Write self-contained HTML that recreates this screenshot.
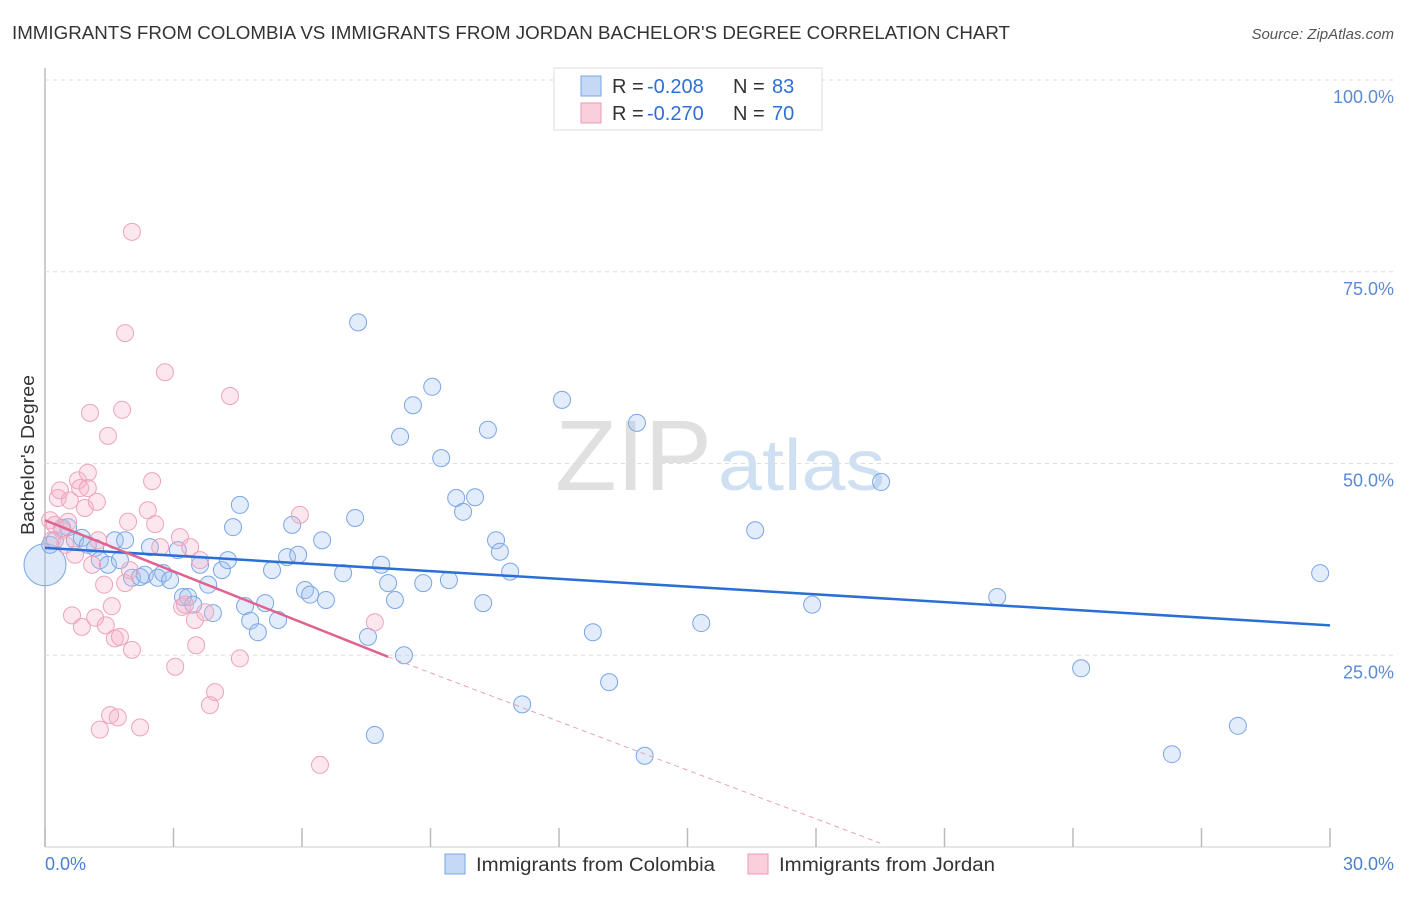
<!DOCTYPE html>
<html><head><meta charset="utf-8"><style>
body{margin:0;background:#fff;font-family:"Liberation Sans",sans-serif;}
svg text{font-family:"Liberation Sans",sans-serif;}
</style></head><body>
<svg id="chart" width="1406" height="892" xmlns="http://www.w3.org/2000/svg">
<text x="12" y="39" font-size="18" fill="#333" textLength="998" lengthAdjust="spacingAndGlyphs">IMMIGRANTS FROM COLOMBIA VS IMMIGRANTS FROM JORDAN BACHELOR'S DEGREE CORRELATION CHART</text>
<text x="1394" y="39" font-size="15" fill="#555" font-style="italic" text-anchor="end">Source: ZipAtlas.com</text>
<text x="555" y="490" font-size="100" fill="#e0e0e0" font-family="Liberation Serif" textLength="157" lengthAdjust="spacingAndGlyphs">ZIP</text>
<text x="718" y="490" font-size="72" fill="#cfe0f2" textLength="167" lengthAdjust="spacingAndGlyphs">atlas</text>
<g id="grid"></g><g id="pts"></g><g id="lines"></g>
<text x="34" y="455" font-size="18" fill="#333" text-anchor="middle" textLength="160" lengthAdjust="spacingAndGlyphs" transform="rotate(-90 34 455)">Bachelor's Degree</text>
<text x="45" y="870" font-size="18" fill="#4a7fd0">0.0%</text>
<text x="1394" y="870" font-size="18" fill="#4a7fd0" text-anchor="end">30.0%</text>
<g>
<rect x="554" y="68" width="268" height="62" fill="#fff" stroke="#ddd"/>
<rect x="581" y="76" width="20" height="20" fill="#c5d8f5" stroke="#7aa6e6"/>
<rect x="581" y="103" width="20" height="20" fill="#f9cfdc" stroke="#ee9ab3"/>
<text x="612" y="93" font-size="20" fill="#333"><tspan>R = </tspan><tspan fill="#2f6fd6" x="647">-0.208</tspan><tspan x="733">N = </tspan><tspan fill="#2f6fd6" x="772">83</tspan></text>
<text x="612" y="120" font-size="20" fill="#333"><tspan>R = </tspan><tspan fill="#2f6fd6" x="647">-0.270</tspan><tspan x="733">N = </tspan><tspan fill="#2f6fd6" x="772">70</tspan></text>
</g>
<g>
<rect x="445" y="854" width="20" height="20" fill="#c5d8f5" stroke="#7aa6e6"/>
<text x="476" y="871" font-size="19" fill="#333" textLength="239" lengthAdjust="spacingAndGlyphs">Immigrants from Colombia</text>
<rect x="748" y="854" width="20" height="20" fill="#f9cfdc" stroke="#ee9ab3"/>
<text x="779" y="871" font-size="19" fill="#333" textLength="216" lengthAdjust="spacingAndGlyphs">Immigrants from Jordan</text>
</g>
</svg>
<script>
const yTicks=[25,50,75,100];
const yTickLabels=["25.0%","50.0%","75.0%","100.0%"];
const xTicks=[0,3,6,9,12,15,18,21,24,27,30];
const blueX=[0.12,0.23,0.4,0.54,0.7,0.86,1.0,1.17,1.28,1.47,1.63,1.75,1.87,2.03,2.22,2.33,2.45,2.63,2.76,2.92,3.1,3.22,3.34,3.46,3.62,3.81,3.92,4.13,4.27,4.39,4.55,4.67,4.79,4.97,5.14,5.3,5.44,5.65,5.77,5.91,6.07,6.19,6.47,6.56,6.96,7.24,7.31,7.54,7.7,7.85,8.01,8.17,8.29,8.38,8.59,8.83,9.04,9.25,9.43,9.6,9.76,10.04,10.23,10.34,10.53,10.62,10.86,11.14,12.07,12.79,13.17,13.82,14.0,15.32,16.58,17.91,19.52,22.23,24.19,26.31,27.85,29.77];
const blueY=[39.4,40.0,41.6,41.7,40.0,40.3,39.4,39.0,37.4,36.8,40.0,37.4,40.0,35.1,35.2,35.5,39.1,35.1,35.7,34.8,38.7,32.6,32.6,31.6,36.8,34.2,30.5,36.1,37.4,41.7,44.6,31.4,29.5,28.0,31.8,36.1,29.6,37.8,42.0,38.1,33.5,32.9,40.0,32.2,35.7,42.9,68.4,27.4,14.6,36.8,34.4,32.2,53.5,25.0,57.6,34.4,60.0,50.7,34.8,45.5,43.7,45.6,31.8,54.4,40.0,38.5,35.9,18.6,58.3,28.0,21.5,55.3,11.9,29.2,41.3,31.6,47.6,32.6,23.3,12.1,15.8,35.7];
const pinkX=[0.12,0.16,0.23,0.3,0.35,0.4,0.47,0.54,0.58,0.63,0.7,0.77,0.82,0.86,0.93,1.0,1.0,1.05,1.1,1.17,1.21,1.24,1.28,1.38,1.42,1.47,1.52,1.56,1.63,1.7,1.75,1.8,1.87,1.94,1.98,2.03,2.03,1.87,2.22,2.4,2.5,2.57,2.69,2.8,3.04,3.15,3.2,3.27,3.39,3.5,3.53,3.62,3.74,3.85,3.97,4.32,4.55,5.95,6.42,7.7];
const pinkY=[42.6,40.0,42.0,45.5,46.5,41.3,39.4,42.4,45.2,30.2,38.1,47.8,46.8,28.7,44.2,46.8,48.8,56.6,36.8,29.9,45.0,40.0,15.3,34.2,28.9,53.6,17.2,31.4,27.2,16.9,27.4,57.0,34.4,42.4,36.1,25.7,80.2,67.0,15.6,43.9,47.7,42.1,39.1,61.9,23.5,40.4,31.3,31.6,39.1,29.6,26.3,37.4,30.6,18.5,20.2,58.8,24.6,43.3,10.7,29.3];
const blueTrend=[39.0,28.9];
const pinkTrend=[42.6,24.8,0.5];
const pinkTrendX=[0,8.01,19.5];
const X=v=>45+v*1285/30, Y=v=>847-v*7.67;
const NS="http://www.w3.org/2000/svg";
function mk(t,a,p){const e=document.createElementNS(NS,t);for(const k in a)e.setAttribute(k,a[k]);p.appendChild(e);return e;}
const grid=document.getElementById('grid');
mk('line',{x1:45,y1:68,x2:45,y2:847,stroke:'#bbb','stroke-width':1.5},grid);
mk('line',{x1:45,y1:847,x2:1330,y2:847,stroke:'#ccc'},grid);
yTicks.forEach((t,i)=>{
 const l=mk('line',{x1:45,y1:Y(t),x2:1394,y2:Y(t),stroke:'#ddd','stroke-dasharray':'4,4'},grid);
 
 
 const tx=mk('text',{x:1394,y:Y(t)+23,'font-size':18,fill:'#5b8ad6','text-anchor':'end'},grid);
 tx.textContent=yTickLabels[i];
 
 
});
xTicks.forEach(t=>{
 const l=mk('line',{x1:X(t),y1:828,x2:X(t),y2:847,stroke:'#bbb','stroke-width':1.5},grid);
 
 
});
const pts=document.getElementById('pts');
const big=mk('circle',{cx:X(0),cy:Y(36.8),r:21,fill:'rgba(160,192,240,0.35)',stroke:'#7aa6e6'},pts);


blueX.forEach((x,i)=>{
 const c=mk('circle',{cx:X(x),cy:Y(blueY[i]),r:8.5,fill:'rgba(160,192,240,0.3)',stroke:'#7aa6e6','stroke-width':1},pts);
 
 
});
pinkX.forEach((x,i)=>{
 const c=mk('circle',{cx:X(x),cy:Y(pinkY[i]),r:8.5,fill:'rgba(245,175,198,0.3)',stroke:'#eea3bb','stroke-width':1},pts);
 
 
});
const lines=document.getElementById('lines');
const bl=mk('line',{x1:X(0),y1:Y(blueTrend[0]),x2:X(30),y2:Y(blueTrend[1]),stroke:'#2a6fd6','stroke-width':2.5},lines);


const pl=mk('line',{x1:X(pinkTrendX[0]),y1:Y(pinkTrend[0]),x2:X(pinkTrendX[1]),y2:Y(pinkTrend[1]),stroke:'#e0628e','stroke-width':2.5},lines);


const pd=mk('line',{x1:X(pinkTrendX[1]),y1:Y(pinkTrend[1]),x2:X(pinkTrendX[2]),y2:Y(pinkTrend[2]),stroke:'#e7a0b8','stroke-width':1,'stroke-dasharray':'5,4'},lines);


</script>
</body></html>
